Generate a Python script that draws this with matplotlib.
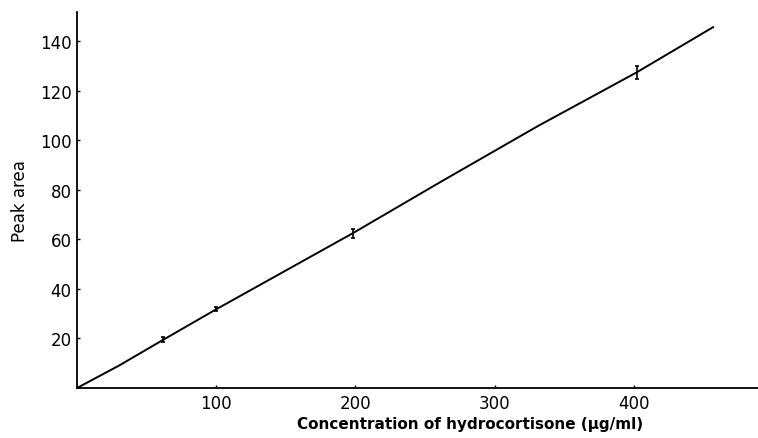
import numpy as np
import matplotlib.pyplot as plt

# concentration (ug/ml) and measured peak area
conc = [62, 100, 198, 402]
area = [19.5, 31.8, 62.5, 127.5]
err = [1.0, 0.8, 1.8, 2.6]

# hand-drawn calibration line through the origin
line_x = [0, 15, 30, 62, 100, 198, 261, 331, 402, 457]
line_y = [0, 4.5, 9, 19.5, 31.8, 62.5, 83.2, 105.8, 127.5, 145.8]

xticks = [100, 200, 300, 400]
yticks = [20, 40, 60, 80, 100, 120, 140]

fig = plt.figure(figsize=(7.58, 4.39), dpi=100)
ax = fig.add_axes([0.1016, 0.1139, 0.898, 0.857])

ax.plot(line_x, line_y, color='black', lw=1.4)
ax.errorbar(conc, area, yerr=err, fmt='none', ecolor='black',
            elinewidth=1.2, capsize=1.5, capthick=1.2)

ax.set_xlim(0, 489)
ax.set_ylim(0, 152)
ax.set_xticks(xticks)
ax.set_yticks(yticks)
ax.tick_params(direction='in', length=2, width=1, labelsize=12, pad=4)

for s in ['top', 'right']:
    ax.spines[s].set_visible(False)
for s in ['left', 'bottom']:
    ax.spines[s].set_linewidth(1.3)

ax.set_ylabel('Peak area', fontsize=12, labelpad=8)
ax.set_xlabel('Concentration of hydrocortisone (\u03bcg/ml)', fontsize=11,
              fontweight='bold', labelpad=3)
ax.xaxis.set_label_coords(0.578, -0.075)

fig.savefig('out.png', dpi=100)
